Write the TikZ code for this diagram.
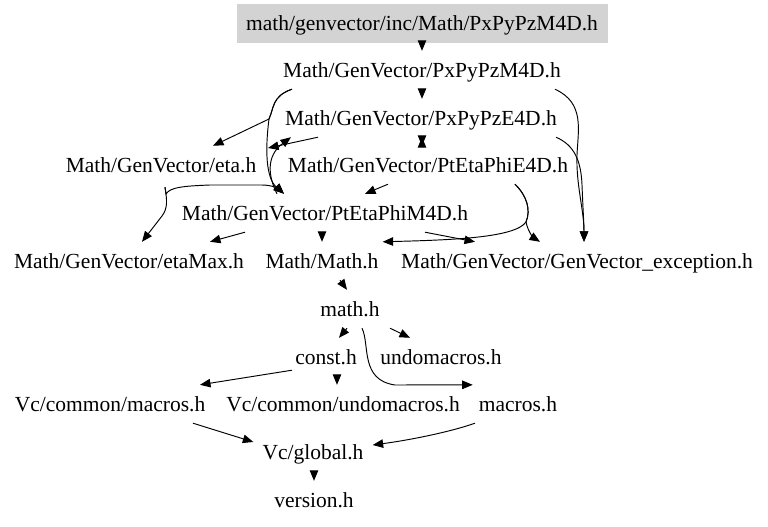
\documentclass[tikz,border=0pt]{standalone}
\usepackage{fontspec}
\setmainfont{Liberation Serif}
\usetikzlibrary{arrows.meta}
\definecolor{topgray}{RGB}{211,211,211}
\begin{document}
\begin{tikzpicture}[x=1pt,y=-1pt,
  nd/.style={inner xsep=9pt, inner ysep=9pt, text height=17.5pt, text depth=2.5pt, anchor=center, font=\fontsize{21.5}{24}\selectfont},
  topbox/.style={nd, fill=topgray, draw=topgray, minimum width=370pt, minimum height=38pt},
  edge/.style={draw, line width=0.95pt, -{Triangle[length=10.5pt,width=8.5pt]}}]
\useasboundingbox (0,0) rectangle (768,527);
\fill[white] (0,0) rectangle (768,527);

\node[topbox] (top) at (422,23) {math/genvector/inc/Math/PxPyPzM4D.h};
\node[nd] (pxm) at (422,70) {Math/GenVector/PxPyPzM4D.h};
\node[nd] (pxe) at (421,118) {Math/GenVector/PxPyPzE4D.h};
\node[nd] (eta) at (161,165) {Math/GenVector/eta.h};
\node[nd] (pte) at (428,165) {Math/GenVector/PtEtaPhiE4D.h};
\node[nd] (ptm) at (325,213) {Math/GenVector/PtEtaPhiM4D.h};
\node[nd] (etamax) at (129,261) {Math/GenVector/etaMax.h};
\node[nd] (mathm) at (322,261) {Math/Math.h};
\node[nd] (exc) at (577,261) {Math/GenVector/GenVector\_exception.h};
\node[nd] (mathh) at (350,309) {math.h};
\node[nd] (const) at (326,357) {const.h};
\node[nd] (undo) at (441,357) {undomacros.h};
\node[nd] (vcmac) at (110,404) {Vc/common/macros.h};
\node[nd] (vcundo) at (343,404) {Vc/common/undomacros.h};
\node[nd] (macros) at (518,404) {macros.h};
\node[nd] (glob) at (313,452) {Vc/global.h};
\node[nd] (ver) at (314,500) {version.h};
\coordinate (j1) at (268,148);

% edges
\draw[edge] (top.south) -- (pxm.north);
\draw[edge] (pxm.south) -- ([xshift=1pt]pxe.north);
\draw[edge] ([xshift=-130pt]pxm.south) .. controls (272,96) and (274,108) .. (269,119) -- ([xshift=52pt]eta.north);
\draw[edge] ([xshift=-130pt]pxm.south) .. controls (272,96) and (274,108) .. (269,119) .. controls (265,150) and (266,178) .. ([xshift=-41pt]ptm.north);
\draw[edge] ([xshift=133pt]pxm.south) .. controls (585,103) and (578,130) .. (577,155) .. controls (576,185) and (584,210) .. ([xshift=7pt]exc.north);
\draw[edge] ([xshift=135pt]pxe.south) .. controls (574,145) and (581,160) .. (582,185) .. controls (583,210) and (584,225) .. ([xshift=7pt]exc.north);
\draw[edge] ([xshift=1pt]pxe.south) -- ([xshift=-6pt]pte.north);
\draw[edge] ([xshift=-6pt]pte.north) -- ([xshift=1pt]pxe.south);
\draw[edge] ([xshift=-103pt]pxe.south) -- (j1);
\draw[edge] ([xshift=-48pt]ptm.north) .. controls (268,176) and (266,156) .. ([xshift=15pt]pxe.south west);
\draw[edge] ([xshift=4pt,yshift=-3pt]eta.south) .. controls (167,200) and (168,208) .. (162,216) -- ([xshift=13pt]etamax.north);
\draw[edge] ([xshift=4pt,yshift=-3pt]eta.south) -- (166,194) .. controls (170,187) and (185,186) .. (210,185) -- (262,185) .. controls (272,185) and (279,189) .. ([xshift=-41pt]ptm.north);
\draw[edge] ([xshift=-40pt]pte.south) -- ([xshift=40pt]ptm.north);
\draw[edge] ([xshift=87pt]pte.south) .. controls (527,196) and (531,210) .. (526,222) .. controls (515,238) and (450,240) .. ([xshift=-5pt]mathm.north east);
\draw[edge] ([xshift=87pt]pte.south) .. controls (527,196) and (531,210) .. (526,222) .. controls (528,232) and (534,238) .. ([xshift=-37pt]exc.north);
\draw[edge] ([xshift=-80pt]ptm.south) -- ([xshift=81pt]etamax.north);
\draw[edge] ([xshift=-3pt]ptm.south) -- (mathm.north);
\draw[edge] ([xshift=100pt]ptm.south) -- ([xshift=-102pt]exc.north);
\draw[edge] ([xshift=18pt]mathm.south) -- ([xshift=-3pt]mathh.north);
\draw[edge] ([xshift=-3pt]mathh.south) -- ([xshift=13pt]const.north);
\draw[edge] ([xshift=40pt]mathh.south) -- ([xshift=-31pt]undo.north);
\draw[edge] ([xshift=12pt]mathh.south) .. controls (370,345) and (360,380) .. (395,385) -- ([xshift=3pt]macros.north west);
\draw[edge] ([xshift=-34pt,yshift=6pt]const.south) -- ([xshift=90pt]vcmac.north);
\draw[edge] ([xshift=11pt]const.south) -- ([xshift=-6pt]vcundo.north);
\draw[edge] ([xshift=83pt]vcmac.south) -- ([yshift=10pt]glob.west);
\draw[edge] ([xshift=-43pt]macros.south) .. controls (450,432) and (410,440) .. ([yshift=7pt]glob.east);
\draw[edge] ([xshift=1pt]glob.south) -- (ver.north);
\end{tikzpicture}
\end{document}
